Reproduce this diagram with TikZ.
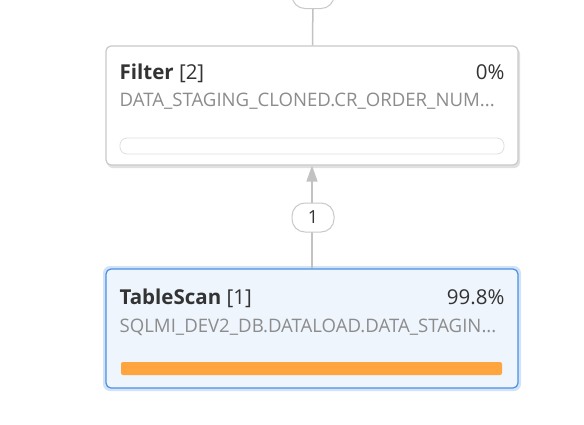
\documentclass[tikz,border=0pt]{standalone}
\usepackage{fontspec}
\setmainfont{Open Sans}
\usetikzlibrary{arrows.meta, calc, positioning}
\definecolor{boxline}{HTML}{C9C9C9}
\definecolor{scanline}{HTML}{4A90E2}
\definecolor{scanfill}{HTML}{EEF5FD}
\definecolor{barorange}{HTML}{FFA53F}
\definecolor{textdark}{HTML}{333333}
\definecolor{textgray}{HTML}{8C8C8C}
\definecolor{edgegray}{HTML}{C2C2C2}
\tikzset{
  opbox/.style = {draw = boxline, line width = 1.2pt, fill = white, rounded corners = 5pt,
                  minimum width = 412pt, minimum height = 119pt},
  scanbox/.style = {opbox, draw = scanline, fill = scanfill},
  optitle/.style = {anchor = base west, inner sep = 0pt, text = textdark, font = \fontsize{20.5}{22}\selectfont},
  opcost/.style = {anchor = base east, inner sep = 0pt, text = textdark, font = \fontsize{20.5}{22}\selectfont},
  opdetail/.style = {anchor = base west, inner sep = 0pt, text = textgray, font = \fontsize{18.6}{20}\selectfont},
  rowpill/.style = {draw = boxline, line width = 1pt, fill = white, rounded corners = 13pt,
                    minimum width = 42pt, minimum height = 29pt, inner sep = 0pt,
                    text = textdark, font = \fontsize{18}{20}\selectfont},
  flow/.style = {draw = edgegray, line width = 1.5pt, -{Triangle[length = 16pt, width = 11pt]}}
}
\begin{document}
\begin{tikzpicture}[x = 1pt, y = -1pt]
\useasboundingbox[fill = white] (0,0) rectangle (584,424);
% plan operators
\fill[black!12, rounded corners = 6pt] (107,48) rectangle (520,168);
\node[opbox] (filter) at (312,105.5) {};
\fill[scanline!25, rounded corners = 7pt] (103,266) rectangle (521,391);
\node[scanbox] (scan) at (312,328.5) {};
% texts
\node[optitle] (filtertitle) at ($(filter.north west)+(14,34)$) {\textbf{Filter} [2]};
\node[opcost] (filtercost) at ($(filter.north east)+(-14,34)$) {0\%};
\node[opdetail] (filterdetail) at ($(filter.north west)+(14,61)$) {DATA\_STAGING\_CLONED.CR\_ORDER\_NUM...};
\node[optitle] (scantitle) at ($(scan.north west)+(14,36)$) {\textbf{TableScan} [1]};
\node[opcost] (scancost) at ($(scan.north east)+(-14,36)$) {99.8\%};
\node[opdetail] (scandetail) at ($(scan.north west)+(14,64)$) {SQLMI\_DEV2\_DB.DATALOAD.DATA\_STAGIN...};
% progress bars
\draw[boxline!60, line width = 0.8pt, rounded corners = 7pt] (120,138) rectangle (504,154);
\fill[barorange, rounded corners = 2pt] (121,362) rectangle (502,375);
% row counts
\node[rowpill] (toprows) at (313,-6) {};
\draw[flow, -] (toprows) -- (filter);
\draw[flow] (scan) -- (filter);
\node[rowpill] (scanrows) at (313,217.5) {1};
\end{tikzpicture}
\end{document}
